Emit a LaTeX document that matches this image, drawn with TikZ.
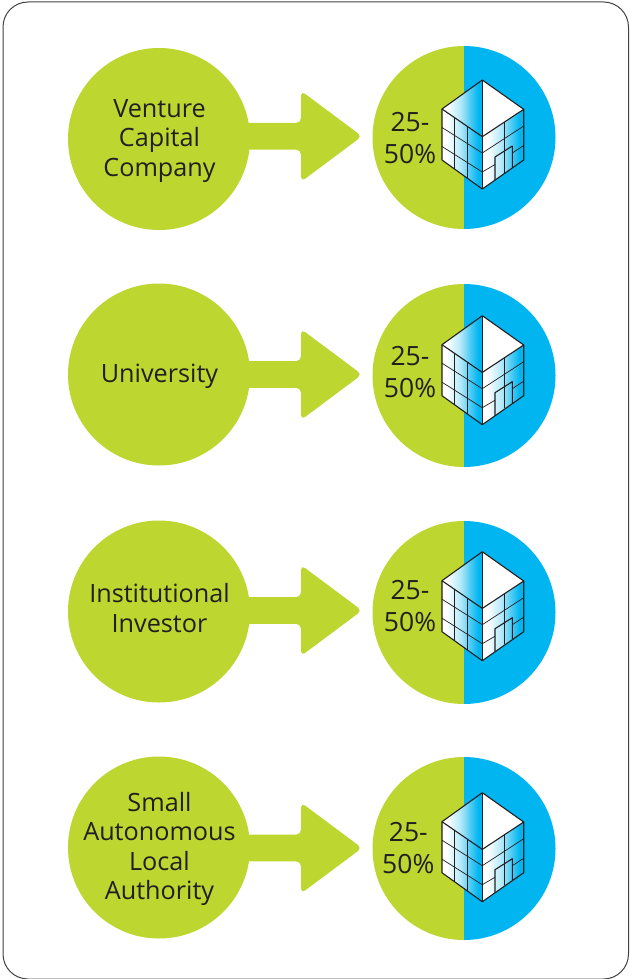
\documentclass[tikz,border=0pt]{standalone}
\usepackage{fontspec}
\setmainfont{Open Sans}
\definecolor{lime}{RGB}{189,214,48}
\definecolor{sky}{RGB}{0,181,240}
\definecolor{ink}{RGB}{35,31,32}
\pgfdeclarehorizontalshading{glassfade}{100bp}{color(0bp)=(white);color(25bp)=(white);color(31bp)=(white);color(48bp)=(sky!30);color(60bp)=(sky!70);color(70bp)=(sky);color(100bp)=(sky)}
\tikzset{
  disc/.style={circle,fill=lime,minimum size=182pt,inner sep=0pt,outer sep=0pt,draw=none},
  label/.style={font=\fontsize{25.2}{29.5}\selectfont,text=ink,align=center,inner sep=0pt},
  pct/.style={font=\fontsize{26.5}{32.3}\selectfont,text=ink,align=center,inner sep=0pt},
  frame/.style={draw=ink!85,line width=1pt,rounded corners=25pt,fill=white},
  blockarrow/.style={fill=lime,draw=none,rounded corners=5pt},
  wire/.style={draw=ink,line width=0.7pt},
  edge/.style={draw=ink,line width=1.1pt,line join=round},
  glass/.style={shading=glassfade},
  pics/halves/.style={code={
    \fill[lime] (0,-91.5) arc[start angle=-90,end angle=-270,radius=91.5] -- cycle;
    \fill[sky] (0,-91.5) arc[start angle=-90,end angle=90,radius=91.5] -- cycle;
  }},
  pics/tower/.style={code={
    \begin{scope}
      \clip (18.3,57.5) -- (-22,28.5) -- (18.3,0.8) -- cycle;
      \shade[glass] (-22,-2) rectangle (18.3,60);
    \end{scope}
    \fill[white] (18.3,57.5) -- (59.7,28.2) -- (18.3,0.8) -- cycle;
    \begin{scope}
      \clip (-22,28.5) -- (18.3,0.8) -- (18.3,-51.5) -- (-22,-22.5) -- cycle;
      \shade[glass] (-22,-55) rectangle (18.3,32);
    \end{scope}
    \begin{scope}
      \clip (18.3,0.8) -- (59.7,28.2) -- (59.7,-22.5) -- (18.3,-51.5) -- cycle;
      \shade[glass] (18.3,-55) rectangle (59.7,32);
    \end{scope}
    \draw[wire] (-22,10) -- (18.3,-15.5);
    \draw[wire] (-22,-9) -- (18.3,-34.5);
    \draw[wire] (-9.7,19.5) -- (-9.7,-31.5);
    \draw[wire] (3.3,10) -- (3.3,-41);
    \draw[wire] (18.3,-15.5) -- (59.7,11.5);
    \draw[wire] (18.3,-34.5) -- (31,-27);
    \draw[wire] (48.3,-15.5) -- (59.7,-8);
    \draw[wire] (40.3,15.5) -- (40.3,-35);
    \draw[edge] (31,-42.5) -- (31,-19.5) -- (48.3,-8.5) -- (48.3,-30);
    \draw[edge] (18.3,57.5) -- (-22,28.5) -- (-22,-22.5) -- (18.3,-51.5) -- (59.7,-22.5) -- (59.7,28.2) -- cycle;
    \draw[edge] (-22,28.5) -- (18.3,0.8) -- (59.7,28.2);
    \draw[edge] (18.3,57.5) -- (18.3,-51.5);
  }}
}
\newcommand{\bigarrow}[1]{%
  \fill[blockarrow] (240,-#1-13.3) -- (301,-#1-13.3) -- (301,-#1-45.5)
    -- (362,-#1) -- (301,-#1+45.5)
    -- (301,-#1+13.3) -- (240,-#1+13.3) -- cycle;}
\begin{document}
\begin{tikzpicture}[x=1pt,y=1pt]
\useasboundingbox (0,-979) rectangle (629,0);
\node[frame,minimum width=625.5pt,minimum height=977pt,inner sep=0pt,anchor=north west] (box) at (2.5,-1.5) {};
% row 1
\bigarrow{136.3}
\node[disc] (a1) at (159,-139) {};
\node[label] (t1) at (159.5,-141) {Venture\\Capital\\Company};
\pic at (464,-137.5) {halves};
\pic at (464,-137.5) {tower};
\node[pct] (n1) at (410,-138) {25-\\50\%};
% row 2
\bigarrow{374.5}
\node[disc] (a2) at (159,-374.5) {};
\node[label] (t2) at (159.5,-376) {University};
\pic at (464,-375.5) {halves};
\pic at (464,-373.2) {tower};
\node[pct] (n2) at (410,-372) {25-\\50\%};
% row 3
\bigarrow{610.5}
\node[disc] (a3) at (159,-611.5) {};
\node[label] (t3) at (159.5,-608) {Institutional\\Investor};
\pic at (464,-612.5) {halves};
\pic at (464,-609.2) {tower};
\node[pct] (n3) at (410,-606) {25-\\50\%};
% row 4
\bigarrow{848}
\node[disc] (a4) at (159,-847.5) {};
\node[label] (t4) at (159.5,-849) {Small\\Autonomous\\Local\\Authority};
\pic at (464,-848.5) {halves};
\pic at (464,-850.2) {tower};
\node[pct] (n4) at (408.3,-848) {25-\\50\%};
\end{tikzpicture}
\end{document}
